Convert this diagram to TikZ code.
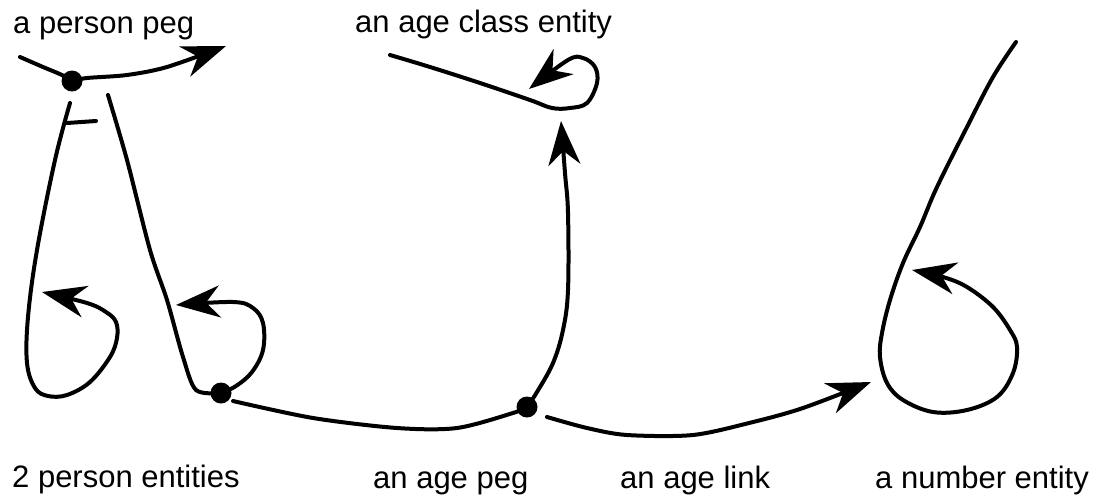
\documentclass[tikz,border=0pt]{standalone}
\usepackage{fontspec}
\setmainfont{Liberation Sans}
\usetikzlibrary{arrows.meta}
\begin{document}
\begin{tikzpicture}[x=1pt,y=-1pt,
  stroke/.style={line width=4pt,line cap=round,line join=round},
  arr/.style={stroke,-{Stealth[length=44pt,width=32pt,inset=14pt]}},
  dot/.style={circle,fill=black,inner sep=0pt,minimum size=21pt},
  lbl/.style={anchor=base west,inner sep=0pt,font=\fontsize{31}{36}\selectfont}]
\useasboundingbox (0,0) rectangle (1097,496);
% labels
\node[lbl] (tPP) at (13,33) {a person peg};
\node[lbl] (tAC) at (355,32) {an age class entity};
\node[lbl] (tPE) at (12,487) {2 person entities};
\node[lbl] (tAP) at (373,488) {an age peg};
\node[lbl] (tAL) at (620,488) {an age link};
\node[lbl] (tNE) at (875,488) {a number entity};
% pegs
\node[dot] (pp) at (72,81) {};
\node[dot] (pe) at (221,393) {};
\node[dot] (ap) at (527,407) {};
% person peg
\draw[stroke] plot[smooth] coordinates {(20,57) (43,67) (62,75) (72,81)};
\draw[arr] plot[smooth] coordinates {(72,81) (87,78) (127,75) (167,67) (226,46)};
% left person entity
\draw[stroke] (67,123) -- (96,121);
\draw[arr] plot[smooth,tension=0.6] coordinates {(70,103) (55,160) (37,250) (28,317) (27,363) (35,388) (48,396) (67,395) (90,382) (110,357) (117,338) (116,322) (106,312) (87,303) (42,292)};
% right person entity
\draw[stroke] plot[smooth,tension=0.5] coordinates {(108,95) (127,160) (150,250) (167,300) (183,357) (196,390) (pe)};
\draw[arr] plot[smooth,tension=0.6] coordinates {(pe) (236,386) (252,372) (263,350) (263,323) (253,308) (233,302) (176,305)};
% age peg line
\draw[stroke] plot[smooth] coordinates {(233,401) (313,418) (397,428) (457,428) (513,413) (ap)};
% age peg to age class
\draw[arr] plot[smooth,tension=0.6] coordinates {(ap) (537,392) (553,363) (563,330) (568,290) (568,213) (565,173) (561,121)};
% age class entity
\draw[arr] plot[smooth,tension=0.6] coordinates {(390,55) (430,67) (480,83) (530,100) (552,108) (570,108) (587,103) (597,83) (595,67) (583,58) (568,60) (529,89)};
% age link
\draw[arr] plot[smooth] coordinates {(547,417) (587,428) (627,435) (693,435) (753,422) (803,408) (871,382)};
% number entity
\draw[arr] plot[smooth,tension=0.6] coordinates {(1016,42) (993,77) (967,127) (937,187) (920,227) (903,263) (890,300) (882,333) (880,357) (887,383) (903,400) (933,412) (967,410) (997,397) (1013,373) (1017,347) (1010,330) (993,307) (967,287) (943,277) (912,270)};
\end{tikzpicture}
\end{document}
